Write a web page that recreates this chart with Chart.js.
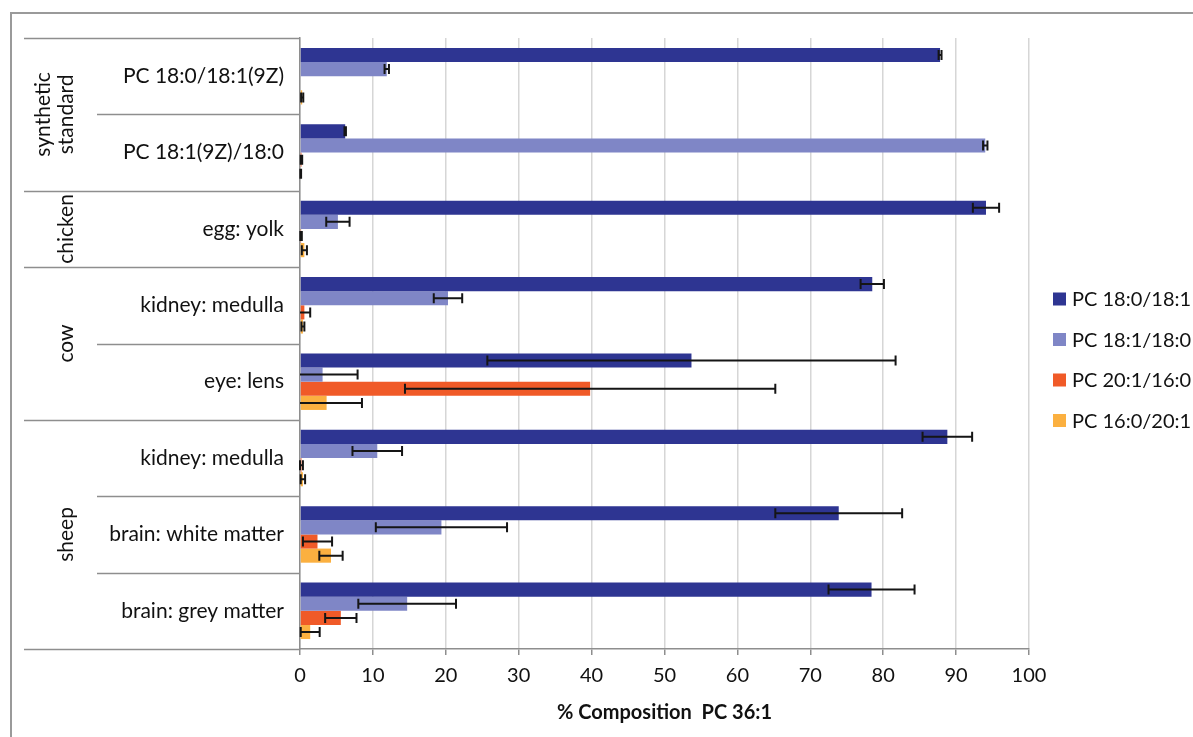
<!DOCTYPE html>
<html>
<head>
<meta charset="utf-8">
<script src="https://cdn.jsdelivr.net/npm/chart.js@4.4.1/dist/chart.umd.min.js"></script>
<style>
  html, body { margin: 0; padding: 0; background: #fff; overflow: hidden; }
  #wrap { position: relative; width: 1193px; height: 737px; }
</style>
</head>
<body>
<div id="wrap"><canvas id="chart" width="1193" height="737"></canvas></div>
<script>
// categories, top to bottom
var categories = ['PC 18:0/18:1(9Z)', 'PC 18:1(9Z)/18:0', 'egg: yolk', 'kidney: medulla',
                  'eye: lens', 'kidney: medulla', 'brain: white matter', 'brain: grey matter'];
// outer grouping of the categories
var groupLabels = [['synthetic', 'standard'], ['chicken'], ['cow'], ['sheep']];
var groupSizes = [2, 1, 2, 3];

var seriesNames = ['PC 18:0/18:1', 'PC 18:1/18:0', 'PC 20:1/16:0', 'PC 16:0/20:1'];
var pc180_181 = [87.8, 6.2, 94.1, 78.5, 53.7, 88.8, 73.9, 78.4];
var pc180_181Err = [0.2, 0.1, 1.8, 1.6, 28.0, 3.4, 8.7, 5.9];
var pc181_180 = [11.9, 94.0, 5.2, 20.3, 3.1, 10.6, 19.4, 14.7];
var pc181_180Err = [0.3, 0.3, 1.6, 1.95, 4.8, 3.4, 9.0, 6.7];
var pc201_160 = [0, 0.2, 0.15, 0.6, 39.8, 0.2, 2.4, 5.6];
var pc201_160Err = [0, 0.1, 0.1, 0.8, 25.4, 0.2, 2.0, 2.15];
var pc160_201 = [0.3, 0.1, 0.6, 0.4, 3.65, 0.4, 4.25, 1.4];
var pc160_201Err = [0.15, 0.05, 0.35, 0.2, 4.85, 0.3, 1.6, 1.3];

var xTicks = [0, 10, 20, 30, 40, 50, 60, 70, 80, 90, 100];

var colors = ['#2e3592', '#7f86c6', '#f05a28', '#fbb040'];
var FONT = 'Lato, "Open Sans", sans-serif';
var TEXT = '#111111';
var lineGray = '#8e8e8e';

// frame round the whole figure
var framePlugin = {
    id: 'frame',
    beforeDraw: function(chart) {
        var ctx = chart.ctx;
        ctx.save();
        ctx.fillStyle = '#fff';
        ctx.fillRect(0, 0, chart.width, chart.height);
        ctx.strokeStyle = '#9a9a9a';
        ctx.lineWidth = 2;
        ctx.beginPath();
        ctx.moveTo(11, chart.height);
        ctx.lineTo(11, 13);
        ctx.lineTo(chart.width, 13);
        ctx.stroke();
        ctx.restore();
    }
};

// group labels and separator lines left of the y axis
var groupPlugin = {
    id: 'groups',
    afterDraw: function(chart) {
        var ctx = chart.ctx;
        var ys = chart.scales.y;
        var area = chart.chartArea;
        var edge = function(i) {
            if (i <= 0) return area.top;
            if (i >= categories.length) return area.bottom;
            return (ys.getPixelForValue(i - 1) + ys.getPixelForValue(i)) / 2;
        };
        ctx.save();
        ctx.strokeStyle = lineGray;
        ctx.lineWidth = 1.5;
        var start = 0;
        var groupEdges = [0];
        groupSizes.forEach(function(n) { start += n; groupEdges.push(start); });
        for (var i = 0; i <= categories.length; i++) {
            var y = Math.round(edge(i)) + 0.5;
            var x0 = groupEdges.indexOf(i) >= 0 ? 24 : 97;
            ctx.beginPath();
            ctx.moveTo(x0, y);
            ctx.lineTo(area.left, y);
            ctx.stroke();
        }
        ctx.fillStyle = TEXT;
        ctx.font = '21px ' + FONT;
        ctx.textAlign = 'center';
        ctx.textBaseline = 'middle';
        groupLabels.forEach(function(lines, g) {
            var yc = (edge(groupEdges[g]) + edge(groupEdges[g + 1])) / 2;
            var xc = 66 - (lines.length - 1) * 11;
            ctx.save();
            ctx.translate(xc, yc);
            ctx.rotate(-Math.PI / 2);
            var lh = 23;
            lines.forEach(function(t, k) {
                ctx.fillText(t, 0, (k - (lines.length - 1) / 2) * lh);
            });
            ctx.restore();
        });
        ctx.restore();
    }
};

// error bars from the dataset "errors" arrays
var errorBarPlugin = {
    id: 'errorBars',
    afterDatasetsDraw: function(chart) {
        var ctx = chart.ctx;
        var xs = chart.scales.x;
        var area = chart.chartArea;
        ctx.save();
        ctx.strokeStyle = '#151515';
        ctx.lineWidth = 2;
        chart.data.datasets.forEach(function(ds, i) {
            var meta = chart.getDatasetMeta(i);
            meta.data.forEach(function(bar, j) {
                var err = ds.errors[j];
                if (!err) return;
                var v = ds.data[j];
                var lo = xs.getPixelForValue(v - err);
                var hi = xs.getPixelForValue(v + err);
                var loIn = lo >= area.left;
                lo = Math.max(lo, area.left);
                var y = bar.y;
                ctx.beginPath();
                ctx.moveTo(lo, y);
                ctx.lineTo(hi, y);
                ctx.moveTo(hi, y - 5);
                ctx.lineTo(hi, y + 5);
                if (loIn) {
                    ctx.moveTo(lo, y - 5);
                    ctx.lineTo(lo, y + 5);
                }
                ctx.stroke();
            });
        });
        ctx.restore();
    }
};

// legend on the right, cut off by the window edge like the original
var sideLegendPlugin = {
    id: 'sideLegend',
    afterDraw: function(chart) {
        var ctx = chart.ctx;
        ctx.save();
        ctx.font = '20px ' + FONT;
        ctx.textBaseline = 'middle';
        chart.data.datasets.forEach(function(ds, i) {
            var y = 299 + i * 40.5;
            ctx.fillStyle = ds.backgroundColor;
            ctx.fillRect(1053, y - 6.5, 13, 13);
            ctx.fillStyle = TEXT;
            ctx.fillText(ds.label, 1072, y + 1);
        });
        ctx.restore();
    }
};

var seriesValues = [pc180_181, pc181_180, pc201_160, pc160_201];
var seriesErrors = [pc180_181Err, pc181_180Err, pc201_160Err, pc160_201Err];

new Chart(document.getElementById('chart'), {
    type: 'bar',
    data: {
        labels: categories,
        datasets: seriesNames.map(function(name, i) {
            return {
                label: name,
                data: seriesValues[i],
                errors: seriesErrors[i],
                backgroundColor: colors[i],
                borderWidth: 0,
                categoryPercentage: 0.74,
                barPercentage: 1.0
            };
        })
    },
    options: {
        indexAxis: 'y',
        responsive: false,
        animation: false,
        layout: { padding: { left: 10, top: 38, right: 164, bottom: 8 } },
        plugins: {
            legend: { display: false },
            tooltip: { enabled: false }
        },
        scales: {
            x: {
                min: 0,
                max: 100,
                afterBuildTicks: function(scale) {
                    scale.ticks = xTicks.map(function(v) { return { value: v }; });
                },
                grid: { color: '#d6d6d6', lineWidth: 1.5, tickColor: lineGray, tickLength: 6 },
                border: { display: true, color: lineGray, width: 1.5 },
                ticks: { color: TEXT, font: { family: FONT, size: 20 }, padding: 9 },
                title: {
                    display: true,
                    text: '% Composition  PC 36:1',
                    color: TEXT,
                    font: { family: FONT, size: 20, weight: 'bold' },
                    padding: { top: 4, bottom: 4 }
                }
            },
            y: {
                grid: { display: false, drawTicks: false },
                border: { display: true, color: lineGray, width: 1.5 },
                ticks: { color: TEXT, font: { family: FONT, size: 21 }, padding: 16 },
                afterFit: function(scale) { scale.width = 290; }
            }
        }
    },
    plugins: [framePlugin, groupPlugin, errorBarPlugin, sideLegendPlugin]
});
</script>
</body>
</html>
